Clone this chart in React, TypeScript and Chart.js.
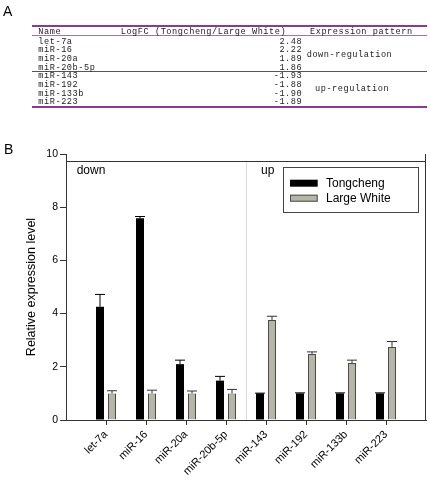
import React, { useEffect, useRef } from 'react';
import { Chart, registerables } from 'chart.js';

Chart.register(...registerables);

// ---------- data ----------
const categories = ['let-7a', 'miR-16', 'miR-20a', 'miR-20b-5p', 'miR-143', 'miR-192', 'miR-133b', 'miR-223'];
const tongcheng = [4.26, 7.58, 2.1, 1.48, 1.0, 1.0, 1.0, 1.0];
const tongchengErr = [0.46, 0.07, 0.15, 0.16, 0.01, 0.02, 0.02, 0.02];
const largeWhite = [1.0, 1.0, 1.0, 1.0, 3.76, 2.48, 2.14, 2.74];
const largeWhiteErr = [0.1, 0.12, 0.09, 0.15, 0.14, 0.08, 0.11, 0.21];
const seriesNames = ['Tongcheng', 'Large White'];
const yTicks = [0, 2, 4, 6, 8, 10];
const groupLabels = ['down', 'up'];
const groupBoundary = 4.5;
const frameValue = 9.75;

const tableHeader = ['Name', 'LogFC (Tongcheng/Large White)', 'Expression pattern'];
const tableNames = ['let-7a', 'miR-16', 'miR-20a', 'miR-20b-5p', 'miR-143', 'miR-192', 'miR-133b', 'miR-223'];
const tableLogFC = ['2.48', '2.22', '1.89', '1.86', '-1.93', '-1.88', '-1.90', '-1.89'];
const tablePatterns = ['down-regulation', 'up-regulation'];
const panelLabels = ['A', 'B'];

const SANS = "'Liberation Sans', Arial, sans-serif";
const MONO = "'Liberation Mono', 'DejaVu Sans Mono', monospace";
const PURPLE = '#8b3a8f';

const errorBarPlugin = {
  id: 'errorBars',
  afterDatasetsDraw(chart: any) {
    const ctx = chart.ctx;
    const yScale = chart.scales.y;
    const errs = [tongchengErr, largeWhiteErr];
    ctx.save();
    chart.data.datasets.forEach((ds: any, di: number) => {
      const meta = chart.getDatasetMeta(di);
      meta.data.forEach((bar: any, i: number) => {
        const v = ds.data[i].y;
        const e = errs[di][i];
        const yTop = yScale.getPixelForValue(v + e);
        const yBar = yScale.getPixelForValue(v);
        ctx.strokeStyle = di === 0 ? '#000' : '#333';
        ctx.lineWidth = 1;
        ctx.beginPath();
        ctx.moveTo(bar.x, yBar);
        ctx.lineTo(bar.x, yTop);
        ctx.moveTo(bar.x - 5, yTop);
        ctx.lineTo(bar.x + 5, yTop);
        ctx.stroke();
      });
    });
    ctx.restore();
  },
};

const decorPlugin = {
  id: 'decor',
  afterDraw(chart: any) {
    const ctx = chart.ctx;
    const { left, right } = chart.chartArea;
    const x = chart.scales.x;
    const y = chart.scales.y;
    const y0 = y.getPixelForValue(0);
    const y10 = y.getPixelForValue(10);
    const yf = y.getPixelForValue(frameValue);
    const xs = x.getPixelForValue(groupBoundary);
    ctx.save();
    // separator
    ctx.strokeStyle = '#d9d9d9';
    ctx.lineWidth = 1;
    ctx.beginPath();
    ctx.moveTo(Math.round(xs) + 0.5, yf);
    ctx.lineTo(Math.round(xs) + 0.5, y0);
    ctx.stroke();
    // frame
    ctx.strokeStyle = '#333';
    ctx.beginPath();
    ctx.moveTo(left, Math.round(yf) + 0.5);
    ctx.lineTo(right, Math.round(yf) + 0.5);
    ctx.moveTo(Math.round(right) - 0.5, y10);
    ctx.lineTo(Math.round(right) - 0.5, y0);
    ctx.stroke();
    // group labels
    ctx.fillStyle = '#000';
    ctx.font = `12px ${SANS}`;
    ctx.textAlign = 'left';
    ctx.textBaseline = 'alphabetic';
    ctx.fillText(groupLabels[0], left + 10.7, yf + 13.7);
    ctx.fillText(groupLabels[1], xs + 15, yf + 13.7);
    // legend
    const bx = Math.round(right - 142.7) + 0.5;
    const by = Math.round(yf + 6) + 0.5;
    const bw = 135.4;
    const bh = 45.4;
    ctx.strokeStyle = '#444';
    ctx.strokeRect(bx, by, Math.round(bw), Math.round(bh));
    const rows = [15.7, 30.7];
    chart.data.datasets.forEach((ds: any, i: number) => {
      const cy = by + rows[i];
      ctx.fillStyle = ds.backgroundColor;
      ctx.fillRect(bx + 6.5, cy - 3.5, 27.7, 7);
      if (ds.borderWidth) {
        ctx.strokeStyle = ds.borderColor;
        ctx.strokeRect(bx + 7, cy - 3, 26.7, 6);
      }
      ctx.fillStyle = '#000';
      ctx.font = `12px ${SANS}`;
      ctx.textBaseline = 'middle';
      ctx.fillText(ds.label, bx + 42.5, cy + 0.5);
    });
    ctx.restore();
  },
};

function ChartPanel() {
  const ref = useRef<HTMLCanvasElement | null>(null);
  useEffect(() => {
    if (!ref.current) return;
    const chart = new Chart(ref.current, {
      type: 'bar',
      data: {
        datasets: [
          {
            label: seriesNames[0],
            data: tongcheng.map((v, i) => ({ x: i + 1, y: v })),
            backgroundColor: '#000000',
            borderWidth: 0,
            barPercentage: 0.667,
            categoryPercentage: 0.6,
          },
          {
            label: seriesNames[1],
            data: largeWhite.map((v, i) => ({ x: i + 1, y: v })),
            backgroundColor: '#b6b6a8',
            borderColor: '#4a4a4a',
            borderWidth: 1,
            barPercentage: 0.667,
            categoryPercentage: 0.6,
          },
        ],
      } as any,
      options: {
        responsive: false,
        animation: false,
        layout: { padding: { top: 154, left: 24, right: 4, bottom: 0 } },
        plugins: { legend: { display: false }, tooltip: { enabled: false } },
        scales: {
          x: {
            type: 'linear',
            min: 0,
            max: categories.length + 1,
            offset: false,
            afterBuildTicks: (s: any) => {
              s.ticks = [0, ...categories.map((_, i) => i + 1), categories.length + 1].map((v) => ({ value: v }));
            },
            afterFit: (s: any) => {
              s.height = 63;
              s.paddingLeft = 0;
              s.paddingRight = 0;
            },
            ticks: {
              autoSkip: false,
              minRotation: 45,
              maxRotation: 45,
              padding: 3,
              color: '#000',
              font: { family: SANS, size: 11 },
              callback: (v: any) => categories[Number(v) - 1] ?? '',
            },
            grid: {
              drawOnChartArea: false,
              offset: false,
              tickLength: 5,
              tickColor: (c: any) =>
                c.tick && c.tick.value >= 1 && c.tick.value <= categories.length ? '#333' : 'rgba(0,0,0,0)',
            },
            border: { display: true, color: '#333', width: 1 },
          },
          y: {
            min: 0,
            max: 10,
            afterBuildTicks: (s: any) => {
              s.ticks = yTicks.map((v) => ({ value: v }));
            },
            afterFit: (s: any) => {
              s.width = 42;
            },
            ticks: { color: '#000', padding: 2, font: { family: SANS, size: 10.5 } },
            grid: { drawOnChartArea: false, tickLength: 6, tickColor: '#333' },
            border: { display: true, color: '#333', width: 1 },
            title: {
              display: true,
              text: 'Relative expression level',
              color: '#000',
              padding: 0,
              font: { family: SANS, size: 12.5 },
            },
          },
        },
      } as any,
      plugins: [errorBarPlugin, decorPlugin],
    });
    return () => chart.destroy();
  }, []);
  return (
    <canvas
      ref={ref}
      width={430}
      height={483}
      style={{ position: 'absolute', left: 0, top: 0, width: 430, height: 483 }}
    />
  );
}

function Table() {
  const fs = 8.6;
  const ls = 0.55;
  const rowY = (i: number) => 41.8 + i * 8.6 + (i >= 4 ? 0.2 : 0);
  const txt = (key: string, text: string, x: number, cy: number, right = false) => (
    <div
      key={key}
      style={{
        position: 'absolute',
        top: cy - 4,
        ...(right ? { right: 430 - x - ls } : { left: x }),
        fontFamily: MONO,
        fontSize: fs,
        letterSpacing: ls,
        lineHeight: 1,
        color: '#222',
        whiteSpace: 'pre',
      }}
    >
      {text}
    </div>
  );
  const line = (key: string, y: number, h: number, color: string) => (
    <div key={key} style={{ position: 'absolute', left: 32, width: 395, top: y, height: h, background: color }} />
  );
  return (
    <>
      {line('l1', 25, 2, PURPLE)}
      {line('l2', 35, 1, '#9a7a9c')}
      {line('l3', 71, 1, '#555')}
      {line('l4', 106, 2, PURPLE)}
      {txt('h0', tableHeader[0], 38.3, 32)}
      {txt('h1', tableHeader[1], 120.7, 32)}
      {txt('h2', tableHeader[2], 310, 32)}
      {tableNames.map((n, i) => txt('n' + i, n, 38.3, rowY(i)))}
      {tableLogFC.map((v, i) => txt('v' + i, v, 301.7, rowY(i), true))}
      {txt('p0', tablePatterns[0], 306.7, (rowY(1) + rowY(2)) / 2)}
      {txt('p1', tablePatterns[1], 315, (rowY(5) + rowY(6)) / 2)}
    </>
  );
}

export default function App() {
  const panel = (text: string, x: number, top: number) => (
    <div
      style={{
        position: 'absolute',
        left: x,
        top,
        fontFamily: SANS,
        fontSize: 14,
        lineHeight: 1,
        color: '#000',
      }}
    >
      {text}
    </div>
  );
  return (
    <div style={{ position: 'absolute', left: 0, top: 0, width: 430, height: 483, background: '#fff', overflow: 'hidden' }}>
      <ChartPanel />
      <Table />
      {panel(panelLabels[0], 3, 3.9)}
      {panel(panelLabels[1], 4, 141.5)}
    </div>
  );
}
